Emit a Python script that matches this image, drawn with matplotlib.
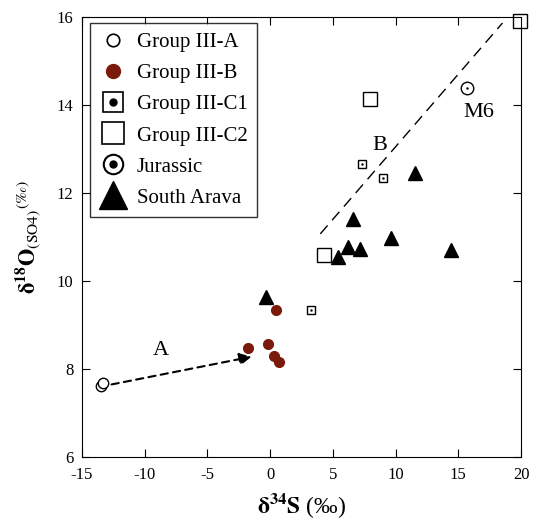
import numpy as np
import matplotlib.pyplot as plt
from matplotlib.lines import Line2D
from matplotlib.legend_handler import HandlerTuple

plt.rcParams['font.family'] = ['Liberation Serif', 'DejaVu Serif']
plt.rcParams['mathtext.fontset'] = 'stix'
plt.rcParams['axes.unicode_minus'] = False

# data (d34S, d18O)
g3a_s = [-13.5, -13.3]
g3a_o = [7.62, 7.69]
g3b_s = [-1.74, -0.14, 0.31, 0.71, 0.45]
g3b_o = [8.47, 8.58, 8.30, 8.17, 9.33]
g3c1_s = [3.24, 7.35, 8.97]
g3c1_o = [9.33, 12.65, 12.33]
g3c2_s = [4.32, 7.97, 19.9]
g3c2_o = [10.59, 14.13, 15.9]
jur_s = [15.67]
jur_o = [14.38]
arava_s = [-0.35, 5.44, 6.24, 6.64, 7.17, 9.64, 11.56, 14.4]
arava_o = [9.64, 10.54, 10.78, 11.40, 10.73, 10.98, 12.45, 10.70]

line_b_s = [4.0, 18.52]
line_b_o = [11.07, 15.86]
arrow_a = [(-12.63, 7.65), (-1.47, 8.28)]

brown = '#7a1a0a'

fig = plt.figure(figsize=(5.35, 5.26), dpi=100)
ax = fig.add_axes([0.153, 0.131, 0.821, 0.837])

ax.plot(line_b_s, line_b_o, ls=(0, (8, 5)), color='black', lw=1)
ax.annotate('', xy=arrow_a[1], xytext=arrow_a[0],
            arrowprops=dict(arrowstyle='-|>', ls=(0, (3.5, 2.5)), lw=1.5,
                            color='black', mutation_scale=18, shrinkA=0, shrinkB=0))

ax.plot(g3a_s, g3a_o, 'o', mfc='white', mec='black', ms=7.5, mew=1)
ax.plot(g3b_s, g3b_o, 'o', color=brown, ms=7)
ax.plot(g3c1_s, g3c1_o, 's', mfc='white', mec='black', ms=5.5, mew=1)
ax.plot(g3c1_s, g3c1_o, '.', color='black', ms=1.5)
ax.plot(g3c2_s, g3c2_o, 's', mfc='white', mec='black', ms=10, mew=1, clip_on=False)
ax.plot(jur_s, jur_o, 'o', mfc='white', mec='black', ms=9, mew=1)
ax.plot(jur_s, jur_o, '.', color='black', ms=1.5)
ax.plot(arava_s, arava_o, '^', color='black', ms=10)

ax.text(-8.7, 8.41, 'A', fontsize=16, ha='center', va='center')
ax.text(8.76, 13.07, 'B', fontsize=16, ha='center', va='center')
ax.text(16.66, 13.82, 'M6', fontsize=16, ha='center', va='center')

ax.set_xlim(-15, 20)
ax.set_ylim(6, 16)
ax.set_xticks(np.arange(-15, 21, 5))
ax.set_yticks(np.arange(6, 17, 2))
ax.tick_params(direction='in', top=True, right=True, length=6, labelsize=12)
ax.tick_params(axis='x', pad=7)
ax.tick_params(axis='y', pad=6)
ax.set_xlabel(r'$\mathbf{\delta^{34}S}$ (‰)', fontsize=17, labelpad=6)
ax.set_ylabel(r'$\mathbf{\delta^{18}O}_{\rm (SO4)}{}^{\rm (‰)}$', fontsize=16, labelpad=10)

h_a = Line2D([], [], ls='', marker='o', mfc='white', mec='black', ms=9, mew=1.2)
h_b = Line2D([], [], ls='', marker='o', color=brown, ms=10)
h_c1 = (Line2D([], [], ls='', marker='s', mfc='white', mec='black', ms=14, mew=1.2),
        Line2D([], [], ls='', marker='o', color='black', ms=5))
h_c2 = Line2D([], [], ls='', marker='s', mfc='white', mec='black', ms=16, mew=1.2)
h_j = (Line2D([], [], ls='', marker='o', mfc='white', mec='black', ms=14, mew=1.5),
       Line2D([], [], ls='', marker='o', color='black', ms=5))
h_s = Line2D([], [], ls='', marker='^', color='black', ms=20)

leg = ax.legend([h_a, h_b, h_c1, h_c2, h_j, h_s],
                ['Group III-A', 'Group III-B', 'Group III-C1', 'Group III-C2',
                 'Jurassic', 'South Arava'],
                handler_map={tuple: HandlerTuple(ndivide=1)},
                loc='upper left', bbox_to_anchor=(0.018, 0.985),
                fontsize=15, frameon=True, fancybox=False, edgecolor='black',
                handlelength=1.3, handletextpad=0.5, labelspacing=0.55,
                borderpad=0.45, borderaxespad=0)
leg.get_frame().set_linewidth(1)

fig.savefig('out.png', dpi=100)
